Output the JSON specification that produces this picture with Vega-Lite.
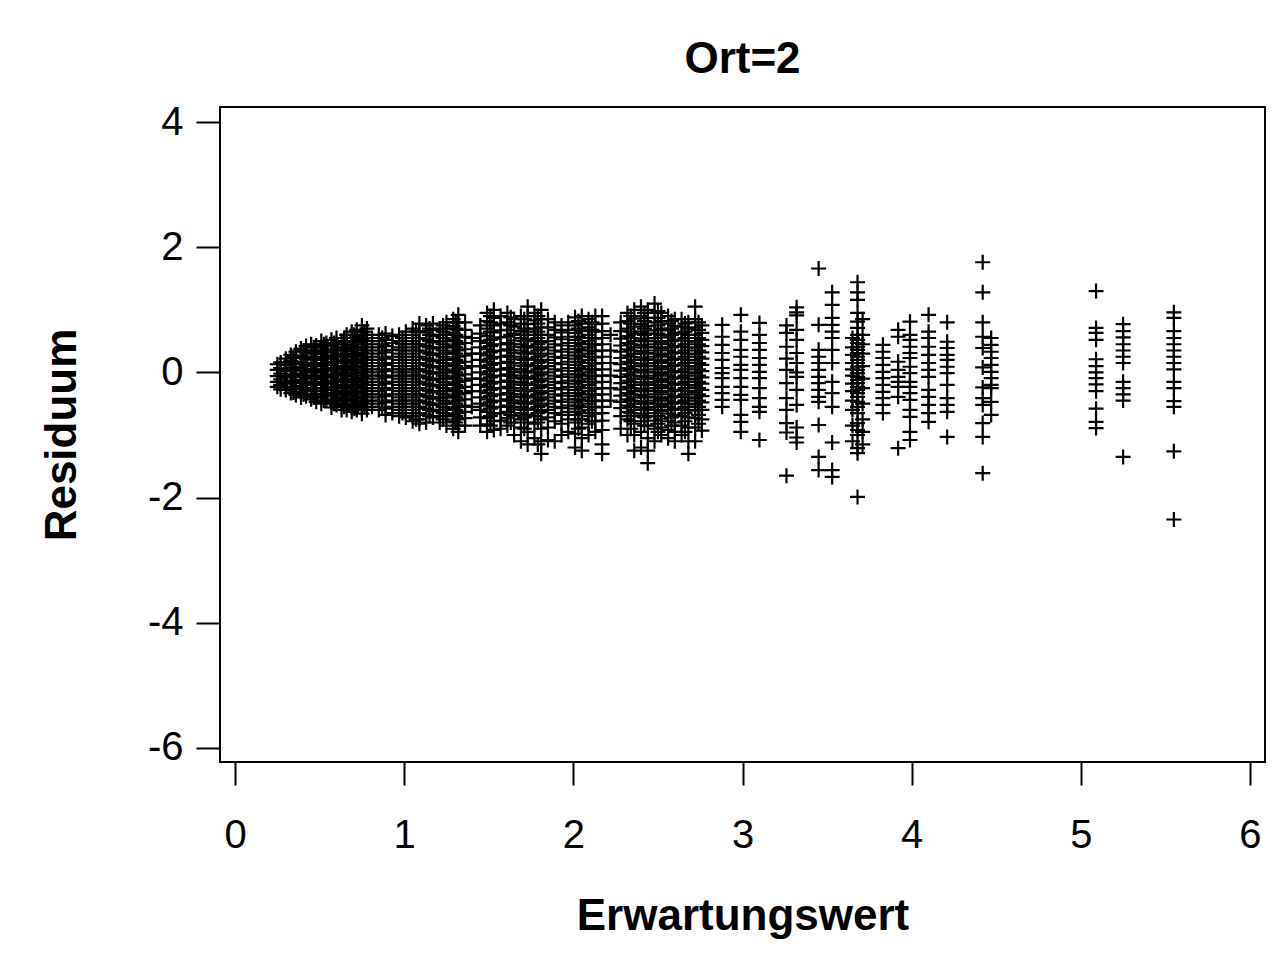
{
"$schema": "https://vega.github.io/schema/vega-lite/v6.json",
"width": 1045,
"height": 655,
"autosize": {"type": "none"},
"padding": {"left": 220, "top": 107, "right": 7, "bottom": 198},
"background": "white",
"title": {"text": "Ort=2", "font": "Liberation Sans", "fontSize": 44, "fontWeight": "bold", "color": "black", "anchor": "middle", "offset": 20},
"config": {"view": {"stroke": "black", "strokeWidth": 2}},
"data": {"values": [
{"x":0.25,"y":0.13},{"x":0.25,"y":0.04},{"x":0.25,"y":-0.06},{"x":0.25,"y":-0.15},{"x":0.25,"y":-0.23},
{"x":0.27,"y":0.16},{"x":0.27,"y":0.07},{"x":0.27,"y":-0.02},{"x":0.27,"y":-0.11},{"x":0.27,"y":-0.2},{"x":0.27,"y":-0.27},
{"x":0.30,"y":0.22},{"x":0.30,"y":0.12},{"x":0.30,"y":0.02},{"x":0.30,"y":-0.08},{"x":0.30,"y":-0.18},{"x":0.30,"y":-0.28},
{"x":0.33,"y":0.28},{"x":0.33,"y":0.18},{"x":0.33,"y":0.08},{"x":0.33,"y":-0.03},{"x":0.33,"y":-0.13},{"x":0.33,"y":-0.23},{"x":0.33,"y":-0.33},
{"x":0.345,"y":0.25},{"x":0.345,"y":0.15},{"x":0.345,"y":0.05},{"x":0.345,"y":-0.05},{"x":0.345,"y":-0.15},{"x":0.345,"y":-0.25},{"x":0.345,"y":-0.32},
{"x":0.36,"y":0.33},{"x":0.36,"y":0.23},{"x":0.36,"y":0.13},{"x":0.36,"y":0.03},{"x":0.36,"y":-0.07},{"x":0.36,"y":-0.17},{"x":0.36,"y":-0.27},{"x":0.36,"y":-0.36},
{"x":0.39,"y":0.38},{"x":0.39,"y":0.27},{"x":0.39,"y":0.17},{"x":0.39,"y":0.08},{"x":0.39,"y":-0.02},{"x":0.39,"y":-0.12},{"x":0.39,"y":-0.22},{"x":0.39,"y":-0.32},{"x":0.39,"y":-0.4},
{"x":0.405,"y":0.35},{"x":0.405,"y":0.25},{"x":0.405,"y":0.15},{"x":0.405,"y":0.05},{"x":0.405,"y":-0.05},{"x":0.405,"y":-0.15},{"x":0.405,"y":-0.25},{"x":0.405,"y":-0.35},
{"x":0.42,"y":0.42},{"x":0.42,"y":0.32},{"x":0.42,"y":0.22},{"x":0.42,"y":0.12},{"x":0.42,"y":0.02},{"x":0.42,"y":-0.08},{"x":0.42,"y":-0.18},{"x":0.42,"y":-0.28},{"x":0.42,"y":-0.38},
{"x":0.45,"y":0.45},{"x":0.45,"y":0.35},{"x":0.45,"y":0.25},{"x":0.45,"y":0.15},{"x":0.45,"y":0.05},{"x":0.45,"y":-0.05},{"x":0.45,"y":-0.15},{"x":0.45,"y":-0.25},{"x":0.45,"y":-0.35},{"x":0.45,"y":-0.43},
{"x":0.465,"y":0.4},{"x":0.465,"y":0.3},{"x":0.465,"y":0.2},{"x":0.465,"y":0.1},{"x":0.465,"y":0},{"x":0.465,"y":-0.1},{"x":0.465,"y":-0.2},{"x":0.465,"y":-0.3},{"x":0.465,"y":-0.4},
{"x":0.48,"y":0.43},{"x":0.48,"y":0.33},{"x":0.48,"y":0.22},{"x":0.48,"y":0.12},{"x":0.48,"y":0.02},{"x":0.48,"y":-0.08},{"x":0.48,"y":-0.18},{"x":0.48,"y":-0.29},{"x":0.48,"y":-0.39},{"x":0.48,"y":-0.47},
{"x":0.51,"y":0.5},{"x":0.51,"y":0.4},{"x":0.51,"y":0.3},{"x":0.51,"y":0.2},{"x":0.51,"y":0.1},{"x":0.51,"y":0},{"x":0.51,"y":-0.1},{"x":0.51,"y":-0.2},{"x":0.51,"y":-0.3},{"x":0.51,"y":-0.4},{"x":0.51,"y":-0.5},
{"x":0.525,"y":0.45},{"x":0.525,"y":0.35},{"x":0.525,"y":0.25},{"x":0.525,"y":0.15},{"x":0.525,"y":0.05},{"x":0.525,"y":-0.05},{"x":0.525,"y":-0.15},{"x":0.525,"y":-0.25},{"x":0.525,"y":-0.35},{"x":0.525,"y":-0.45},
{"x":0.54,"y":0.47},{"x":0.54,"y":0.36},{"x":0.54,"y":0.25},{"x":0.54,"y":0.15},{"x":0.54,"y":0.05},{"x":0.54,"y":-0.05},{"x":0.54,"y":-0.15},{"x":0.54,"y":-0.25},{"x":0.54,"y":-0.35},{"x":0.54,"y":-0.45},
{"x":0.57,"y":0.52},{"x":0.57,"y":0.42},{"x":0.57,"y":0.32},{"x":0.57,"y":0.22},{"x":0.57,"y":0.12},{"x":0.57,"y":0.02},{"x":0.57,"y":-0.08},{"x":0.57,"y":-0.18},{"x":0.57,"y":-0.28},{"x":0.57,"y":-0.38},{"x":0.57,"y":-0.48},{"x":0.57,"y":-0.56},
{"x":0.585,"y":0.47},{"x":0.585,"y":0.37},{"x":0.585,"y":0.27},{"x":0.585,"y":0.17},{"x":0.585,"y":0.07},{"x":0.585,"y":-0.03},{"x":0.585,"y":-0.13},{"x":0.585,"y":-0.23},{"x":0.585,"y":-0.33},{"x":0.585,"y":-0.43},{"x":0.585,"y":-0.5},
{"x":0.60,"y":0.55},{"x":0.60,"y":0.45},{"x":0.60,"y":0.35},{"x":0.60,"y":0.25},{"x":0.60,"y":0.15},{"x":0.60,"y":0.05},{"x":0.60,"y":-0.05},{"x":0.60,"y":-0.15},{"x":0.60,"y":-0.25},{"x":0.60,"y":-0.35},{"x":0.60,"y":-0.45},{"x":0.60,"y":-0.52},
{"x":0.63,"y":0.5},{"x":0.63,"y":0.4},{"x":0.63,"y":0.3},{"x":0.63,"y":0.2},{"x":0.63,"y":0.1},{"x":0.63,"y":0},{"x":0.63,"y":-0.1},{"x":0.63,"y":-0.2},{"x":0.63,"y":-0.3},{"x":0.63,"y":-0.4},{"x":0.63,"y":-0.5},{"x":0.63,"y":-0.6},
{"x":0.645,"y":0.55},{"x":0.645,"y":0.45},{"x":0.645,"y":0.35},{"x":0.645,"y":0.25},{"x":0.645,"y":0.15},{"x":0.645,"y":0.05},{"x":0.645,"y":-0.05},{"x":0.645,"y":-0.15},{"x":0.645,"y":-0.25},{"x":0.645,"y":-0.35},{"x":0.645,"y":-0.45},{"x":0.645,"y":-0.55},
{"x":0.66,"y":0.6},{"x":0.66,"y":0.49},{"x":0.66,"y":0.38},{"x":0.66,"y":0.27},{"x":0.66,"y":0.17},{"x":0.66,"y":0.07},{"x":0.66,"y":-0.03},{"x":0.66,"y":-0.13},{"x":0.66,"y":-0.23},{"x":0.66,"y":-0.33},{"x":0.66,"y":-0.43},{"x":0.66,"y":-0.53},{"x":0.66,"y":-0.6},
{"x":0.69,"y":0.65},{"x":0.69,"y":0.55},{"x":0.69,"y":0.44},{"x":0.69,"y":0.34},{"x":0.69,"y":0.24},{"x":0.69,"y":0.14},{"x":0.69,"y":0.04},{"x":0.69,"y":-0.06},{"x":0.69,"y":-0.16},{"x":0.69,"y":-0.26},{"x":0.69,"y":-0.36},{"x":0.69,"y":-0.46},{"x":0.69,"y":-0.56},{"x":0.69,"y":-0.63},
{"x":0.705,"y":0.6},{"x":0.705,"y":0.5},{"x":0.705,"y":0.4},{"x":0.705,"y":0.3},{"x":0.705,"y":0.2},{"x":0.705,"y":0.1},{"x":0.705,"y":0},{"x":0.705,"y":-0.1},{"x":0.705,"y":-0.2},{"x":0.705,"y":-0.3},{"x":0.705,"y":-0.4},{"x":0.705,"y":-0.5},{"x":0.705,"y":-0.58},
{"x":0.72,"y":0.68},{"x":0.72,"y":0.58},{"x":0.72,"y":0.48},{"x":0.72,"y":0.38},{"x":0.72,"y":0.28},{"x":0.72,"y":0.18},{"x":0.72,"y":0.08},{"x":0.72,"y":-0.02},{"x":0.72,"y":-0.12},{"x":0.72,"y":-0.22},{"x":0.72,"y":-0.32},{"x":0.72,"y":-0.42},{"x":0.72,"y":-0.52},{"x":0.72,"y":-0.6},
{"x":0.75,"y":0.75},{"x":0.75,"y":0.64},{"x":0.75,"y":0.52},{"x":0.75,"y":0.41},{"x":0.75,"y":0.31},{"x":0.75,"y":0.21},{"x":0.75,"y":0.11},{"x":0.75,"y":0.01},{"x":0.75,"y":-0.09},{"x":0.75,"y":-0.19},{"x":0.75,"y":-0.29},{"x":0.75,"y":-0.39},{"x":0.75,"y":-0.49},{"x":0.75,"y":-0.59},{"x":0.75,"y":-0.66},
{"x":0.765,"y":0.65},{"x":0.765,"y":0.55},{"x":0.765,"y":0.45},{"x":0.765,"y":0.35},{"x":0.765,"y":0.25},{"x":0.765,"y":0.15},{"x":0.765,"y":0.05},{"x":0.765,"y":-0.05},{"x":0.765,"y":-0.15},{"x":0.765,"y":-0.25},{"x":0.765,"y":-0.35},{"x":0.765,"y":-0.45},{"x":0.765,"y":-0.55},
{"x":0.78,"y":0.7},{"x":0.78,"y":0.6},{"x":0.78,"y":0.5},{"x":0.78,"y":0.4},{"x":0.78,"y":0.3},{"x":0.78,"y":0.2},{"x":0.78,"y":0.1},{"x":0.78,"y":0},{"x":0.78,"y":-0.1},{"x":0.78,"y":-0.2},{"x":0.78,"y":-0.3},{"x":0.78,"y":-0.4},{"x":0.78,"y":-0.5},{"x":0.78,"y":-0.6},
{"x":0.81,"y":0.55},{"x":0.81,"y":0.45},{"x":0.81,"y":0.35},{"x":0.81,"y":0.25},{"x":0.81,"y":0.15},{"x":0.81,"y":0.05},{"x":0.81,"y":-0.05},{"x":0.81,"y":-0.15},{"x":0.81,"y":-0.25},{"x":0.81,"y":-0.35},{"x":0.81,"y":-0.45},{"x":0.81,"y":-0.55},
{"x":0.85,"y":0.6},{"x":0.85,"y":0.5},{"x":0.85,"y":0.4},{"x":0.85,"y":0.3},{"x":0.85,"y":0.2},{"x":0.85,"y":0.1},{"x":0.85,"y":0},{"x":0.85,"y":-0.1},{"x":0.85,"y":-0.2},{"x":0.85,"y":-0.3},{"x":0.85,"y":-0.4},{"x":0.85,"y":-0.5},{"x":0.85,"y":-0.6},
{"x":0.87,"y":0.55},{"x":0.87,"y":0.45},{"x":0.87,"y":0.35},{"x":0.87,"y":0.25},{"x":0.87,"y":0.15},{"x":0.87,"y":0.05},{"x":0.87,"y":-0.05},{"x":0.87,"y":-0.15},{"x":0.87,"y":-0.25},{"x":0.87,"y":-0.35},{"x":0.87,"y":-0.45},{"x":0.87,"y":-0.55},
{"x":0.89,"y":0.62},{"x":0.89,"y":0.52},{"x":0.89,"y":0.42},{"x":0.89,"y":0.32},{"x":0.89,"y":0.22},{"x":0.89,"y":0.12},{"x":0.89,"y":0.02},{"x":0.89,"y":-0.08},{"x":0.89,"y":-0.18},{"x":0.89,"y":-0.28},{"x":0.89,"y":-0.38},{"x":0.89,"y":-0.48},{"x":0.89,"y":-0.58},{"x":0.89,"y":-0.68},
{"x":0.93,"y":0.58},{"x":0.93,"y":0.47},{"x":0.93,"y":0.36},{"x":0.93,"y":0.25},{"x":0.93,"y":0.15},{"x":0.93,"y":0.05},{"x":0.93,"y":-0.05},{"x":0.93,"y":-0.15},{"x":0.93,"y":-0.25},{"x":0.93,"y":-0.35},{"x":0.93,"y":-0.45},{"x":0.93,"y":-0.55},{"x":0.93,"y":-0.65},
{"x":0.97,"y":0.6},{"x":0.97,"y":0.5},{"x":0.97,"y":0.4},{"x":0.97,"y":0.3},{"x":0.97,"y":0.2},{"x":0.97,"y":0.1},{"x":0.97,"y":0},{"x":0.97,"y":-0.1},{"x":0.97,"y":-0.2},{"x":0.97,"y":-0.3},{"x":0.97,"y":-0.4},{"x":0.97,"y":-0.5},{"x":0.97,"y":-0.6},{"x":0.97,"y":-0.7},
{"x":0.99,"y":0.55},{"x":0.99,"y":0.45},{"x":0.99,"y":0.35},{"x":0.99,"y":0.25},{"x":0.99,"y":0.15},{"x":0.99,"y":0.05},{"x":0.99,"y":-0.05},{"x":0.99,"y":-0.15},{"x":0.99,"y":-0.25},{"x":0.99,"y":-0.35},{"x":0.99,"y":-0.45},{"x":0.99,"y":-0.55},{"x":0.99,"y":-0.65},
{"x":1.01,"y":0.65},{"x":1.01,"y":0.55},{"x":1.01,"y":0.45},{"x":1.01,"y":0.35},{"x":1.01,"y":0.25},{"x":1.01,"y":0.15},{"x":1.01,"y":0.05},{"x":1.01,"y":-0.05},{"x":1.01,"y":-0.15},{"x":1.01,"y":-0.25},{"x":1.01,"y":-0.35},{"x":1.01,"y":-0.45},{"x":1.01,"y":-0.55},{"x":1.01,"y":-0.65},{"x":1.01,"y":-0.72},
{"x":1.05,"y":0.7},{"x":1.05,"y":0.6},{"x":1.05,"y":0.5},{"x":1.05,"y":0.4},{"x":1.05,"y":0.3},{"x":1.05,"y":0.2},{"x":1.05,"y":0.1},{"x":1.05,"y":0},{"x":1.05,"y":-0.1},{"x":1.05,"y":-0.2},{"x":1.05,"y":-0.3},{"x":1.05,"y":-0.4},{"x":1.05,"y":-0.5},{"x":1.05,"y":-0.6},{"x":1.05,"y":-0.7},{"x":1.05,"y":-0.78},
{"x":1.07,"y":0.65},{"x":1.07,"y":0.55},{"x":1.07,"y":0.45},{"x":1.07,"y":0.35},{"x":1.07,"y":0.25},{"x":1.07,"y":0.15},{"x":1.07,"y":0.05},{"x":1.07,"y":-0.05},{"x":1.07,"y":-0.15},{"x":1.07,"y":-0.25},{"x":1.07,"y":-0.35},{"x":1.07,"y":-0.45},{"x":1.07,"y":-0.55},{"x":1.07,"y":-0.65},{"x":1.07,"y":-0.75},
{"x":1.09,"y":0.78},{"x":1.09,"y":0.66},{"x":1.09,"y":0.55},{"x":1.09,"y":0.45},{"x":1.09,"y":0.35},{"x":1.09,"y":0.25},{"x":1.09,"y":0.15},{"x":1.09,"y":0.05},{"x":1.09,"y":-0.05},{"x":1.09,"y":-0.15},{"x":1.09,"y":-0.25},{"x":1.09,"y":-0.35},{"x":1.09,"y":-0.45},{"x":1.09,"y":-0.55},{"x":1.09,"y":-0.65},{"x":1.09,"y":-0.75},{"x":1.09,"y":-0.82},
{"x":1.13,"y":0.75},{"x":1.13,"y":0.64},{"x":1.13,"y":0.53},{"x":1.13,"y":0.42},{"x":1.13,"y":0.32},{"x":1.13,"y":0.22},{"x":1.13,"y":0.12},{"x":1.13,"y":0.02},{"x":1.13,"y":-0.08},{"x":1.13,"y":-0.18},{"x":1.13,"y":-0.28},{"x":1.13,"y":-0.38},{"x":1.13,"y":-0.48},{"x":1.13,"y":-0.58},{"x":1.13,"y":-0.68},{"x":1.13,"y":-0.8},
{"x":1.15,"y":0.7},{"x":1.15,"y":0.6},{"x":1.15,"y":0.5},{"x":1.15,"y":0.4},{"x":1.15,"y":0.3},{"x":1.15,"y":0.2},{"x":1.15,"y":0.1},{"x":1.15,"y":0},{"x":1.15,"y":-0.1},{"x":1.15,"y":-0.2},{"x":1.15,"y":-0.3},{"x":1.15,"y":-0.4},{"x":1.15,"y":-0.5},{"x":1.15,"y":-0.6},{"x":1.15,"y":-0.7},
{"x":1.17,"y":0.78},{"x":1.17,"y":0.68},{"x":1.17,"y":0.58},{"x":1.17,"y":0.48},{"x":1.17,"y":0.38},{"x":1.17,"y":0.28},{"x":1.17,"y":0.18},{"x":1.17,"y":0.08},{"x":1.17,"y":-0.02},{"x":1.17,"y":-0.12},{"x":1.17,"y":-0.22},{"x":1.17,"y":-0.32},{"x":1.17,"y":-0.42},{"x":1.17,"y":-0.52},{"x":1.17,"y":-0.62},{"x":1.17,"y":-0.72},
{"x":1.21,"y":0.7},{"x":1.21,"y":0.6},{"x":1.21,"y":0.5},{"x":1.21,"y":0.4},{"x":1.21,"y":0.3},{"x":1.21,"y":0.2},{"x":1.21,"y":0.1},{"x":1.21,"y":0},{"x":1.21,"y":-0.1},{"x":1.21,"y":-0.2},{"x":1.21,"y":-0.3},{"x":1.21,"y":-0.4},{"x":1.21,"y":-0.5},{"x":1.21,"y":-0.6},{"x":1.21,"y":-0.7},{"x":1.21,"y":-0.8},
{"x":1.23,"y":0.75},{"x":1.23,"y":0.65},{"x":1.23,"y":0.55},{"x":1.23,"y":0.45},{"x":1.23,"y":0.35},{"x":1.23,"y":0.25},{"x":1.23,"y":0.15},{"x":1.23,"y":0.05},{"x":1.23,"y":-0.05},{"x":1.23,"y":-0.15},{"x":1.23,"y":-0.25},{"x":1.23,"y":-0.35},{"x":1.23,"y":-0.45},{"x":1.23,"y":-0.55},{"x":1.23,"y":-0.65},{"x":1.23,"y":-0.75},
{"x":1.25,"y":0.8},{"x":1.25,"y":0.7},{"x":1.25,"y":0.6},{"x":1.25,"y":0.5},{"x":1.25,"y":0.4},{"x":1.25,"y":0.3},{"x":1.25,"y":0.2},{"x":1.25,"y":0.1},{"x":1.25,"y":0},{"x":1.25,"y":-0.1},{"x":1.25,"y":-0.2},{"x":1.25,"y":-0.3},{"x":1.25,"y":-0.4},{"x":1.25,"y":-0.5},{"x":1.25,"y":-0.6},{"x":1.25,"y":-0.7},{"x":1.25,"y":-0.85},
{"x":1.29,"y":0.85},{"x":1.29,"y":0.74},{"x":1.29,"y":0.63},{"x":1.29,"y":0.52},{"x":1.29,"y":0.42},{"x":1.29,"y":0.32},{"x":1.29,"y":0.22},{"x":1.29,"y":0.12},{"x":1.29,"y":0.02},{"x":1.29,"y":-0.08},{"x":1.29,"y":-0.18},{"x":1.29,"y":-0.28},{"x":1.29,"y":-0.38},{"x":1.29,"y":-0.48},{"x":1.29,"y":-0.58},{"x":1.29,"y":-0.68},{"x":1.29,"y":-0.78},{"x":1.29,"y":-0.9},
{"x":1.305,"y":0.8},{"x":1.305,"y":0.7},{"x":1.305,"y":0.6},{"x":1.305,"y":0.5},{"x":1.305,"y":0.4},{"x":1.305,"y":0.3},{"x":1.305,"y":0.2},{"x":1.305,"y":0.1},{"x":1.305,"y":0},{"x":1.305,"y":-0.1},{"x":1.305,"y":-0.2},{"x":1.305,"y":-0.3},{"x":1.305,"y":-0.4},{"x":1.305,"y":-0.5},{"x":1.305,"y":-0.6},{"x":1.305,"y":-0.7},{"x":1.305,"y":-0.8},
{"x":1.32,"y":0.92},{"x":1.32,"y":0.8},{"x":1.32,"y":0.68},{"x":1.32,"y":0.56},{"x":1.32,"y":0.45},{"x":1.32,"y":0.35},{"x":1.32,"y":0.25},{"x":1.32,"y":0.15},{"x":1.32,"y":0.05},{"x":1.32,"y":-0.05},{"x":1.32,"y":-0.15},{"x":1.32,"y":-0.25},{"x":1.32,"y":-0.35},{"x":1.32,"y":-0.45},{"x":1.32,"y":-0.55},{"x":1.32,"y":-0.65},{"x":1.32,"y":-0.75},{"x":1.32,"y":-0.85},{"x":1.32,"y":-0.95},
{"x":1.36,"y":0.8},{"x":1.36,"y":0.68},{"x":1.36,"y":0.57},{"x":1.36,"y":0.47},{"x":1.36,"y":0.37},{"x":1.36,"y":0.27},{"x":1.36,"y":0.17},{"x":1.36,"y":0.07},{"x":1.36,"y":-0.03},{"x":1.36,"y":-0.13},{"x":1.36,"y":-0.23},{"x":1.36,"y":-0.33},{"x":1.36,"y":-0.43},{"x":1.36,"y":-0.53},{"x":1.36,"y":-0.63},{"x":1.36,"y":-0.73},{"x":1.36,"y":-0.85},
{"x":1.40,"y":0.55},{"x":1.40,"y":0.3},{"x":1.40,"y":0.1},{"x":1.40,"y":-0.1},{"x":1.40,"y":-0.3},{"x":1.40,"y":-0.55},
{"x":1.45,"y":0.75},{"x":1.45,"y":0.62},{"x":1.45,"y":0.5},{"x":1.45,"y":0.4},{"x":1.45,"y":0.3},{"x":1.45,"y":0.2},{"x":1.45,"y":0.1},{"x":1.45,"y":0},{"x":1.45,"y":-0.1},{"x":1.45,"y":-0.2},{"x":1.45,"y":-0.3},{"x":1.45,"y":-0.4},{"x":1.45,"y":-0.5},{"x":1.45,"y":-0.6},{"x":1.45,"y":-0.72},{"x":1.45,"y":-0.85},
{"x":1.49,"y":0.95},{"x":1.49,"y":0.82},{"x":1.49,"y":0.7},{"x":1.49,"y":0.58},{"x":1.49,"y":0.47},{"x":1.49,"y":0.37},{"x":1.49,"y":0.27},{"x":1.49,"y":0.17},{"x":1.49,"y":0.07},{"x":1.49,"y":-0.03},{"x":1.49,"y":-0.13},{"x":1.49,"y":-0.23},{"x":1.49,"y":-0.33},{"x":1.49,"y":-0.43},{"x":1.49,"y":-0.53},{"x":1.49,"y":-0.63},{"x":1.49,"y":-0.73},{"x":1.49,"y":-0.83},{"x":1.49,"y":-0.95},
{"x":1.51,"y":0.9},{"x":1.51,"y":0.8},{"x":1.51,"y":0.65},{"x":1.51,"y":0.52},{"x":1.51,"y":0.42},{"x":1.51,"y":0.32},{"x":1.51,"y":0.22},{"x":1.51,"y":0.12},{"x":1.51,"y":0.02},{"x":1.51,"y":-0.08},{"x":1.51,"y":-0.18},{"x":1.51,"y":-0.28},{"x":1.51,"y":-0.38},{"x":1.51,"y":-0.48},{"x":1.51,"y":-0.58},{"x":1.51,"y":-0.7},{"x":1.51,"y":-0.85},
{"x":1.53,"y":1.0},{"x":1.53,"y":0.87},{"x":1.53,"y":0.75},{"x":1.53,"y":0.64},{"x":1.53,"y":0.54},{"x":1.53,"y":0.44},{"x":1.53,"y":0.34},{"x":1.53,"y":0.24},{"x":1.53,"y":0.14},{"x":1.53,"y":0.04},{"x":1.53,"y":-0.06},{"x":1.53,"y":-0.16},{"x":1.53,"y":-0.26},{"x":1.53,"y":-0.36},{"x":1.53,"y":-0.46},{"x":1.53,"y":-0.56},{"x":1.53,"y":-0.66},{"x":1.53,"y":-0.78},{"x":1.53,"y":-0.92},
{"x":1.57,"y":0.9},{"x":1.57,"y":0.78},{"x":1.57,"y":0.67},{"x":1.57,"y":0.56},{"x":1.57,"y":0.45},{"x":1.57,"y":0.35},{"x":1.57,"y":0.25},{"x":1.57,"y":0.15},{"x":1.57,"y":0.05},{"x":1.57,"y":-0.05},{"x":1.57,"y":-0.15},{"x":1.57,"y":-0.25},{"x":1.57,"y":-0.35},{"x":1.57,"y":-0.45},{"x":1.57,"y":-0.55},{"x":1.57,"y":-0.65},{"x":1.57,"y":-0.77},{"x":1.57,"y":-0.9},
{"x":1.61,"y":0.95},{"x":1.61,"y":0.8},{"x":1.61,"y":0.68},{"x":1.61,"y":0.57},{"x":1.61,"y":0.47},{"x":1.61,"y":0.37},{"x":1.61,"y":0.27},{"x":1.61,"y":0.17},{"x":1.61,"y":0.07},{"x":1.61,"y":-0.03},{"x":1.61,"y":-0.13},{"x":1.61,"y":-0.23},{"x":1.61,"y":-0.33},{"x":1.61,"y":-0.43},{"x":1.61,"y":-0.53},{"x":1.61,"y":-0.63},{"x":1.61,"y":-0.73},{"x":1.61,"y":-0.85},
{"x":1.63,"y":0.88},{"x":1.63,"y":0.75},{"x":1.63,"y":0.6},{"x":1.63,"y":0.45},{"x":1.63,"y":0.35},{"x":1.63,"y":0.25},{"x":1.63,"y":0.15},{"x":1.63,"y":0.05},{"x":1.63,"y":-0.05},{"x":1.63,"y":-0.15},{"x":1.63,"y":-0.25},{"x":1.63,"y":-0.35},{"x":1.63,"y":-0.45},{"x":1.63,"y":-0.55},{"x":1.63,"y":-0.68},{"x":1.63,"y":-0.8},
{"x":1.65,"y":0.85},{"x":1.65,"y":0.73},{"x":1.65,"y":0.62},{"x":1.65,"y":0.51},{"x":1.65,"y":0.41},{"x":1.65,"y":0.31},{"x":1.65,"y":0.21},{"x":1.65,"y":0.11},{"x":1.65,"y":0.01},{"x":1.65,"y":-0.09},{"x":1.65,"y":-0.19},{"x":1.65,"y":-0.29},{"x":1.65,"y":-0.39},{"x":1.65,"y":-0.49},{"x":1.65,"y":-0.59},{"x":1.65,"y":-0.69},{"x":1.65,"y":-0.8},{"x":1.65,"y":-1.0},
{"x":1.69,"y":0.9},{"x":1.69,"y":0.78},{"x":1.69,"y":0.66},{"x":1.69,"y":0.55},{"x":1.69,"y":0.45},{"x":1.69,"y":0.35},{"x":1.69,"y":0.25},{"x":1.69,"y":0.15},{"x":1.69,"y":0.05},{"x":1.69,"y":-0.05},{"x":1.69,"y":-0.15},{"x":1.69,"y":-0.25},{"x":1.69,"y":-0.35},{"x":1.69,"y":-0.45},{"x":1.69,"y":-0.55},{"x":1.69,"y":-0.65},{"x":1.69,"y":-0.75},{"x":1.69,"y":-0.88},{"x":1.69,"y":-1.1},
{"x":1.71,"y":0.85},{"x":1.71,"y":0.7},{"x":1.71,"y":0.6},{"x":1.71,"y":0.5},{"x":1.71,"y":0.4},{"x":1.71,"y":0.3},{"x":1.71,"y":0.2},{"x":1.71,"y":0.1},{"x":1.71,"y":0},{"x":1.71,"y":-0.1},{"x":1.71,"y":-0.2},{"x":1.71,"y":-0.3},{"x":1.71,"y":-0.4},{"x":1.71,"y":-0.5},{"x":1.71,"y":-0.6},{"x":1.71,"y":-0.72},{"x":1.71,"y":-0.9},
{"x":1.73,"y":1.05},{"x":1.73,"y":0.9},{"x":1.73,"y":0.77},{"x":1.73,"y":0.65},{"x":1.73,"y":0.53},{"x":1.73,"y":0.42},{"x":1.73,"y":0.32},{"x":1.73,"y":0.22},{"x":1.73,"y":0.12},{"x":1.73,"y":0.02},{"x":1.73,"y":-0.08},{"x":1.73,"y":-0.18},{"x":1.73,"y":-0.28},{"x":1.73,"y":-0.38},{"x":1.73,"y":-0.48},{"x":1.73,"y":-0.58},{"x":1.73,"y":-0.68},{"x":1.73,"y":-0.8},{"x":1.73,"y":-0.95},{"x":1.73,"y":-1.15},
{"x":1.77,"y":0.95},{"x":1.77,"y":0.83},{"x":1.77,"y":0.7},{"x":1.77,"y":0.6},{"x":1.77,"y":0.5},{"x":1.77,"y":0.4},{"x":1.77,"y":0.3},{"x":1.77,"y":0.2},{"x":1.77,"y":0.1},{"x":1.77,"y":0},{"x":1.77,"y":-0.1},{"x":1.77,"y":-0.2},{"x":1.77,"y":-0.3},{"x":1.77,"y":-0.4},{"x":1.77,"y":-0.5},{"x":1.77,"y":-0.6},{"x":1.77,"y":-0.7},{"x":1.77,"y":-0.82},{"x":1.77,"y":-1.05},
{"x":1.79,"y":0.9},{"x":1.79,"y":0.78},{"x":1.79,"y":0.65},{"x":1.79,"y":0.55},{"x":1.79,"y":0.45},{"x":1.79,"y":0.35},{"x":1.79,"y":0.25},{"x":1.79,"y":0.15},{"x":1.79,"y":0.05},{"x":1.79,"y":-0.05},{"x":1.79,"y":-0.15},{"x":1.79,"y":-0.25},{"x":1.79,"y":-0.35},{"x":1.79,"y":-0.45},{"x":1.79,"y":-0.55},{"x":1.79,"y":-0.65},{"x":1.79,"y":-0.8},{"x":1.79,"y":-1.15},
{"x":1.81,"y":1.0},{"x":1.81,"y":0.85},{"x":1.81,"y":0.72},{"x":1.81,"y":0.6},{"x":1.81,"y":0.48},{"x":1.81,"y":0.37},{"x":1.81,"y":0.27},{"x":1.81,"y":0.17},{"x":1.81,"y":0.07},{"x":1.81,"y":-0.03},{"x":1.81,"y":-0.13},{"x":1.81,"y":-0.23},{"x":1.81,"y":-0.33},{"x":1.81,"y":-0.43},{"x":1.81,"y":-0.53},{"x":1.81,"y":-0.63},{"x":1.81,"y":-0.75},{"x":1.81,"y":-0.9},{"x":1.81,"y":-1.1},{"x":1.81,"y":-1.3},
{"x":1.85,"y":0.85},{"x":1.85,"y":0.72},{"x":1.85,"y":0.6},{"x":1.85,"y":0.5},{"x":1.85,"y":0.4},{"x":1.85,"y":0.3},{"x":1.85,"y":0.2},{"x":1.85,"y":0.1},{"x":1.85,"y":0},{"x":1.85,"y":-0.1},{"x":1.85,"y":-0.2},{"x":1.85,"y":-0.3},{"x":1.85,"y":-0.4},{"x":1.85,"y":-0.5},{"x":1.85,"y":-0.6},{"x":1.85,"y":-0.72},{"x":1.85,"y":-0.88},{"x":1.85,"y":-1.08},
{"x":1.89,"y":0.8},{"x":1.89,"y":0.68},{"x":1.89,"y":0.56},{"x":1.89,"y":0.45},{"x":1.89,"y":0.35},{"x":1.89,"y":0.25},{"x":1.89,"y":0.15},{"x":1.89,"y":0.05},{"x":1.89,"y":-0.05},{"x":1.89,"y":-0.15},{"x":1.89,"y":-0.25},{"x":1.89,"y":-0.35},{"x":1.89,"y":-0.45},{"x":1.89,"y":-0.55},{"x":1.89,"y":-0.65},{"x":1.89,"y":-0.78},{"x":1.89,"y":-1.1},
{"x":1.93,"y":0.75},{"x":1.93,"y":0.64},{"x":1.93,"y":0.53},{"x":1.93,"y":0.43},{"x":1.93,"y":0.33},{"x":1.93,"y":0.23},{"x":1.93,"y":0.13},{"x":1.93,"y":0.03},{"x":1.93,"y":-0.07},{"x":1.93,"y":-0.17},{"x":1.93,"y":-0.27},{"x":1.93,"y":-0.37},{"x":1.93,"y":-0.47},{"x":1.93,"y":-0.57},{"x":1.93,"y":-0.68},{"x":1.93,"y":-0.82},{"x":1.93,"y":-1.0},
{"x":1.97,"y":0.8},{"x":1.97,"y":0.68},{"x":1.97,"y":0.57},{"x":1.97,"y":0.47},{"x":1.97,"y":0.37},{"x":1.97,"y":0.27},{"x":1.97,"y":0.17},{"x":1.97,"y":0.07},{"x":1.97,"y":-0.03},{"x":1.97,"y":-0.13},{"x":1.97,"y":-0.23},{"x":1.97,"y":-0.33},{"x":1.97,"y":-0.43},{"x":1.97,"y":-0.53},{"x":1.97,"y":-0.63},{"x":1.97,"y":-0.75},{"x":1.97,"y":-0.95},
{"x":2.01,"y":0.88},{"x":2.01,"y":0.75},{"x":2.01,"y":0.63},{"x":2.01,"y":0.52},{"x":2.01,"y":0.42},{"x":2.01,"y":0.32},{"x":2.01,"y":0.22},{"x":2.01,"y":0.12},{"x":2.01,"y":0.02},{"x":2.01,"y":-0.08},{"x":2.01,"y":-0.18},{"x":2.01,"y":-0.28},{"x":2.01,"y":-0.38},{"x":2.01,"y":-0.48},{"x":2.01,"y":-0.58},{"x":2.01,"y":-0.68},{"x":2.01,"y":-0.8},{"x":2.01,"y":-0.98},{"x":2.01,"y":-1.2},
{"x":2.03,"y":0.82},{"x":2.03,"y":0.7},{"x":2.03,"y":0.57},{"x":2.03,"y":0.47},{"x":2.03,"y":0.37},{"x":2.03,"y":0.27},{"x":2.03,"y":0.17},{"x":2.03,"y":0.07},{"x":2.03,"y":-0.03},{"x":2.03,"y":-0.13},{"x":2.03,"y":-0.23},{"x":2.03,"y":-0.33},{"x":2.03,"y":-0.43},{"x":2.03,"y":-0.53},{"x":2.03,"y":-0.63},{"x":2.03,"y":-0.75},{"x":2.03,"y":-0.9},
{"x":2.05,"y":0.9},{"x":2.05,"y":0.78},{"x":2.05,"y":0.66},{"x":2.05,"y":0.55},{"x":2.05,"y":0.45},{"x":2.05,"y":0.35},{"x":2.05,"y":0.25},{"x":2.05,"y":0.15},{"x":2.05,"y":0.05},{"x":2.05,"y":-0.05},{"x":2.05,"y":-0.15},{"x":2.05,"y":-0.25},{"x":2.05,"y":-0.35},{"x":2.05,"y":-0.45},{"x":2.05,"y":-0.55},{"x":2.05,"y":-0.65},{"x":2.05,"y":-0.75},{"x":2.05,"y":-0.88},{"x":2.05,"y":-1.05},{"x":2.05,"y":-1.25},
{"x":2.09,"y":0.85},{"x":2.09,"y":0.72},{"x":2.09,"y":0.6},{"x":2.09,"y":0.5},{"x":2.09,"y":0.4},{"x":2.09,"y":0.3},{"x":2.09,"y":0.2},{"x":2.09,"y":0.1},{"x":2.09,"y":0},{"x":2.09,"y":-0.1},{"x":2.09,"y":-0.2},{"x":2.09,"y":-0.3},{"x":2.09,"y":-0.4},{"x":2.09,"y":-0.5},{"x":2.09,"y":-0.6},{"x":2.09,"y":-0.7},{"x":2.09,"y":-0.82},{"x":2.09,"y":-1.0},
{"x":2.11,"y":0.8},{"x":2.11,"y":0.68},{"x":2.11,"y":0.55},{"x":2.11,"y":0.45},{"x":2.11,"y":0.35},{"x":2.11,"y":0.25},{"x":2.11,"y":0.15},{"x":2.11,"y":0.05},{"x":2.11,"y":-0.05},{"x":2.11,"y":-0.15},{"x":2.11,"y":-0.25},{"x":2.11,"y":-0.35},{"x":2.11,"y":-0.45},{"x":2.11,"y":-0.55},{"x":2.11,"y":-0.65},{"x":2.11,"y":-0.78},
{"x":2.13,"y":0.9},{"x":2.13,"y":0.77},{"x":2.13,"y":0.65},{"x":2.13,"y":0.54},{"x":2.13,"y":0.44},{"x":2.13,"y":0.34},{"x":2.13,"y":0.24},{"x":2.13,"y":0.14},{"x":2.13,"y":0.04},{"x":2.13,"y":-0.06},{"x":2.13,"y":-0.16},{"x":2.13,"y":-0.26},{"x":2.13,"y":-0.36},{"x":2.13,"y":-0.46},{"x":2.13,"y":-0.56},{"x":2.13,"y":-0.66},{"x":2.13,"y":-0.78},{"x":2.13,"y":-0.95},
{"x":2.17,"y":0.9},{"x":2.17,"y":0.78},{"x":2.17,"y":0.66},{"x":2.17,"y":0.55},{"x":2.17,"y":0.45},{"x":2.17,"y":0.35},{"x":2.17,"y":0.25},{"x":2.17,"y":0.15},{"x":2.17,"y":0.05},{"x":2.17,"y":-0.05},{"x":2.17,"y":-0.15},{"x":2.17,"y":-0.25},{"x":2.17,"y":-0.35},{"x":2.17,"y":-0.45},{"x":2.17,"y":-0.55},{"x":2.17,"y":-0.65},{"x":2.17,"y":-0.77},{"x":2.17,"y":-0.92},{"x":2.17,"y":-1.15},{"x":2.17,"y":-1.3},
{"x":2.22,"y":0.6},{"x":2.22,"y":0.35},{"x":2.22,"y":0.15},{"x":2.22,"y":-0.05},{"x":2.22,"y":-0.25},{"x":2.22,"y":-0.45},
{"x":2.28,"y":0.8},{"x":2.28,"y":0.66},{"x":2.28,"y":0.54},{"x":2.28,"y":0.43},{"x":2.28,"y":0.33},{"x":2.28,"y":0.23},{"x":2.28,"y":0.13},{"x":2.28,"y":0.03},{"x":2.28,"y":-0.07},{"x":2.28,"y":-0.17},{"x":2.28,"y":-0.27},{"x":2.28,"y":-0.37},{"x":2.28,"y":-0.47},{"x":2.28,"y":-0.57},{"x":2.28,"y":-0.7},{"x":2.28,"y":-0.9},
{"x":2.32,"y":0.95},{"x":2.32,"y":0.82},{"x":2.32,"y":0.7},{"x":2.32,"y":0.58},{"x":2.32,"y":0.47},{"x":2.32,"y":0.37},{"x":2.32,"y":0.27},{"x":2.32,"y":0.17},{"x":2.32,"y":0.07},{"x":2.32,"y":-0.03},{"x":2.32,"y":-0.13},{"x":2.32,"y":-0.23},{"x":2.32,"y":-0.33},{"x":2.32,"y":-0.43},{"x":2.32,"y":-0.53},{"x":2.32,"y":-0.63},{"x":2.32,"y":-0.75},{"x":2.32,"y":-1.0},
{"x":2.34,"y":0.9},{"x":2.34,"y":0.78},{"x":2.34,"y":0.65},{"x":2.34,"y":0.55},{"x":2.34,"y":0.45},{"x":2.34,"y":0.35},{"x":2.34,"y":0.25},{"x":2.34,"y":0.15},{"x":2.34,"y":0.05},{"x":2.34,"y":-0.05},{"x":2.34,"y":-0.15},{"x":2.34,"y":-0.25},{"x":2.34,"y":-0.35},{"x":2.34,"y":-0.45},{"x":2.34,"y":-0.55},{"x":2.34,"y":-0.65},{"x":2.34,"y":-0.78},{"x":2.34,"y":-0.9},
{"x":2.36,"y":1.0},{"x":2.36,"y":0.86},{"x":2.36,"y":0.73},{"x":2.36,"y":0.61},{"x":2.36,"y":0.5},{"x":2.36,"y":0.4},{"x":2.36,"y":0.3},{"x":2.36,"y":0.2},{"x":2.36,"y":0.1},{"x":2.36,"y":0},{"x":2.36,"y":-0.1},{"x":2.36,"y":-0.2},{"x":2.36,"y":-0.3},{"x":2.36,"y":-0.4},{"x":2.36,"y":-0.5},{"x":2.36,"y":-0.6},{"x":2.36,"y":-0.7},{"x":2.36,"y":-0.82},{"x":2.36,"y":-1.0},{"x":2.36,"y":-1.25},
{"x":2.40,"y":1.05},{"x":2.40,"y":0.9},{"x":2.40,"y":0.77},{"x":2.40,"y":0.65},{"x":2.40,"y":0.54},{"x":2.40,"y":0.44},{"x":2.40,"y":0.34},{"x":2.40,"y":0.24},{"x":2.40,"y":0.14},{"x":2.40,"y":0.04},{"x":2.40,"y":-0.06},{"x":2.40,"y":-0.16},{"x":2.40,"y":-0.26},{"x":2.40,"y":-0.36},{"x":2.40,"y":-0.46},{"x":2.40,"y":-0.56},{"x":2.40,"y":-0.66},{"x":2.40,"y":-0.78},{"x":2.40,"y":-0.95},{"x":2.40,"y":-1.2},
{"x":2.42,"y":0.95},{"x":2.42,"y":0.82},{"x":2.42,"y":0.7},{"x":2.42,"y":0.6},{"x":2.42,"y":0.5},{"x":2.42,"y":0.4},{"x":2.42,"y":0.3},{"x":2.42,"y":0.2},{"x":2.42,"y":0.1},{"x":2.42,"y":0},{"x":2.42,"y":-0.1},{"x":2.42,"y":-0.2},{"x":2.42,"y":-0.3},{"x":2.42,"y":-0.4},{"x":2.42,"y":-0.5},{"x":2.42,"y":-0.6},{"x":2.42,"y":-0.72},{"x":2.42,"y":-0.85},
{"x":2.44,"y":1.0},{"x":2.44,"y":0.87},{"x":2.44,"y":0.74},{"x":2.44,"y":0.62},{"x":2.44,"y":0.51},{"x":2.44,"y":0.41},{"x":2.44,"y":0.31},{"x":2.44,"y":0.21},{"x":2.44,"y":0.11},{"x":2.44,"y":0.01},{"x":2.44,"y":-0.09},{"x":2.44,"y":-0.19},{"x":2.44,"y":-0.29},{"x":2.44,"y":-0.39},{"x":2.44,"y":-0.49},{"x":2.44,"y":-0.59},{"x":2.44,"y":-0.7},{"x":2.44,"y":-0.85},{"x":2.44,"y":-1.05},{"x":2.44,"y":-1.25},{"x":2.44,"y":-1.45},
{"x":2.48,"y":1.1},{"x":2.48,"y":0.95},{"x":2.48,"y":0.8},{"x":2.48,"y":0.67},{"x":2.48,"y":0.55},{"x":2.48,"y":0.45},{"x":2.48,"y":0.35},{"x":2.48,"y":0.25},{"x":2.48,"y":0.15},{"x":2.48,"y":0.05},{"x":2.48,"y":-0.05},{"x":2.48,"y":-0.15},{"x":2.48,"y":-0.25},{"x":2.48,"y":-0.35},{"x":2.48,"y":-0.45},{"x":2.48,"y":-0.55},{"x":2.48,"y":-0.65},{"x":2.48,"y":-0.77},{"x":2.48,"y":-0.9},{"x":2.48,"y":-1.1},
{"x":2.50,"y":0.98},{"x":2.50,"y":0.87},{"x":2.50,"y":0.75},{"x":2.50,"y":0.62},{"x":2.50,"y":0.5},{"x":2.50,"y":0.4},{"x":2.50,"y":0.3},{"x":2.50,"y":0.2},{"x":2.50,"y":0.1},{"x":2.50,"y":0},{"x":2.50,"y":-0.1},{"x":2.50,"y":-0.2},{"x":2.50,"y":-0.3},{"x":2.50,"y":-0.4},{"x":2.50,"y":-0.5},{"x":2.50,"y":-0.6},{"x":2.50,"y":-0.7},{"x":2.50,"y":-0.82},{"x":2.50,"y":-0.95},
{"x":2.52,"y":0.95},{"x":2.52,"y":0.82},{"x":2.52,"y":0.7},{"x":2.52,"y":0.59},{"x":2.52,"y":0.48},{"x":2.52,"y":0.38},{"x":2.52,"y":0.28},{"x":2.52,"y":0.18},{"x":2.52,"y":0.08},{"x":2.52,"y":-0.02},{"x":2.52,"y":-0.12},{"x":2.52,"y":-0.22},{"x":2.52,"y":-0.32},{"x":2.52,"y":-0.42},{"x":2.52,"y":-0.52},{"x":2.52,"y":-0.62},{"x":2.52,"y":-0.74},{"x":2.52,"y":-0.88},{"x":2.52,"y":-1.0},
{"x":2.56,"y":0.9},{"x":2.56,"y":0.78},{"x":2.56,"y":0.67},{"x":2.56,"y":0.56},{"x":2.56,"y":0.45},{"x":2.56,"y":0.35},{"x":2.56,"y":0.25},{"x":2.56,"y":0.15},{"x":2.56,"y":0.05},{"x":2.56,"y":-0.05},{"x":2.56,"y":-0.15},{"x":2.56,"y":-0.25},{"x":2.56,"y":-0.35},{"x":2.56,"y":-0.45},{"x":2.56,"y":-0.55},{"x":2.56,"y":-0.66},{"x":2.56,"y":-0.78},{"x":2.56,"y":-0.92},{"x":2.56,"y":-1.05},
{"x":2.58,"y":0.82},{"x":2.58,"y":0.7},{"x":2.58,"y":0.6},{"x":2.58,"y":0.5},{"x":2.58,"y":0.4},{"x":2.58,"y":0.3},{"x":2.58,"y":0.2},{"x":2.58,"y":0.1},{"x":2.58,"y":0},{"x":2.58,"y":-0.1},{"x":2.58,"y":-0.2},{"x":2.58,"y":-0.3},{"x":2.58,"y":-0.4},{"x":2.58,"y":-0.5},{"x":2.58,"y":-0.6},{"x":2.58,"y":-0.72},{"x":2.58,"y":-0.85},
{"x":2.60,"y":0.85},{"x":2.60,"y":0.74},{"x":2.60,"y":0.63},{"x":2.60,"y":0.52},{"x":2.60,"y":0.42},{"x":2.60,"y":0.32},{"x":2.60,"y":0.22},{"x":2.60,"y":0.12},{"x":2.60,"y":0.02},{"x":2.60,"y":-0.08},{"x":2.60,"y":-0.18},{"x":2.60,"y":-0.28},{"x":2.60,"y":-0.38},{"x":2.60,"y":-0.48},{"x":2.60,"y":-0.58},{"x":2.60,"y":-0.68},{"x":2.60,"y":-0.8},{"x":2.60,"y":-0.95},{"x":2.60,"y":-1.1},
{"x":2.64,"y":0.85},{"x":2.64,"y":0.73},{"x":2.64,"y":0.62},{"x":2.64,"y":0.51},{"x":2.64,"y":0.41},{"x":2.64,"y":0.31},{"x":2.64,"y":0.21},{"x":2.64,"y":0.11},{"x":2.64,"y":0.01},{"x":2.64,"y":-0.09},{"x":2.64,"y":-0.19},{"x":2.64,"y":-0.29},{"x":2.64,"y":-0.39},{"x":2.64,"y":-0.49},{"x":2.64,"y":-0.59},{"x":2.64,"y":-0.7},{"x":2.64,"y":-0.85},{"x":2.64,"y":-1.0},
{"x":2.66,"y":0.78},{"x":2.66,"y":0.65},{"x":2.66,"y":0.55},{"x":2.66,"y":0.45},{"x":2.66,"y":0.35},{"x":2.66,"y":0.25},{"x":2.66,"y":0.15},{"x":2.66,"y":0.05},{"x":2.66,"y":-0.05},{"x":2.66,"y":-0.15},{"x":2.66,"y":-0.25},{"x":2.66,"y":-0.35},{"x":2.66,"y":-0.45},{"x":2.66,"y":-0.55},{"x":2.66,"y":-0.65},{"x":2.66,"y":-0.78},{"x":2.66,"y":-0.95},
{"x":2.68,"y":0.8},{"x":2.68,"y":0.7},{"x":2.68,"y":0.6},{"x":2.68,"y":0.5},{"x":2.68,"y":0.4},{"x":2.68,"y":0.3},{"x":2.68,"y":0.2},{"x":2.68,"y":0.1},{"x":2.68,"y":0},{"x":2.68,"y":-0.1},{"x":2.68,"y":-0.2},{"x":2.68,"y":-0.3},{"x":2.68,"y":-0.4},{"x":2.68,"y":-0.5},{"x":2.68,"y":-0.6},{"x":2.68,"y":-0.72},{"x":2.68,"y":-0.88},{"x":2.68,"y":-1.1},{"x":2.68,"y":-1.3},
{"x":2.72,"y":1.05},{"x":2.72,"y":0.85},{"x":2.72,"y":0.72},{"x":2.72,"y":0.6},{"x":2.72,"y":0.49},{"x":2.72,"y":0.39},{"x":2.72,"y":0.29},{"x":2.72,"y":0.19},{"x":2.72,"y":0.09},{"x":2.72,"y":-0.01},{"x":2.72,"y":-0.11},{"x":2.72,"y":-0.21},{"x":2.72,"y":-0.31},{"x":2.72,"y":-0.41},{"x":2.72,"y":-0.51},{"x":2.72,"y":-0.61},{"x":2.72,"y":-0.73},{"x":2.72,"y":-0.88},{"x":2.72,"y":-1.1},
{"x":2.74,"y":0.8},{"x":2.74,"y":0.68},{"x":2.74,"y":0.55},{"x":2.74,"y":0.45},{"x":2.74,"y":0.35},{"x":2.74,"y":0.25},{"x":2.74,"y":0.15},{"x":2.74,"y":0.05},{"x":2.74,"y":-0.05},{"x":2.74,"y":-0.15},{"x":2.74,"y":-0.25},{"x":2.74,"y":-0.35},{"x":2.74,"y":-0.45},{"x":2.74,"y":-0.55},{"x":2.74,"y":-0.68},{"x":2.74,"y":-0.82},
{"x":2.76,"y":0.75},{"x":2.76,"y":0.63},{"x":2.76,"y":0.52},{"x":2.76,"y":0.42},{"x":2.76,"y":0.32},{"x":2.76,"y":0.22},{"x":2.76,"y":0.12},{"x":2.76,"y":0.02},{"x":2.76,"y":-0.08},{"x":2.76,"y":-0.18},{"x":2.76,"y":-0.28},{"x":2.76,"y":-0.38},{"x":2.76,"y":-0.48},{"x":2.76,"y":-0.6},{"x":2.76,"y":-0.75},{"x":2.76,"y":-0.93},
{"x":2.88,"y":0.76},{"x":2.88,"y":0.57},{"x":2.88,"y":0.44},{"x":2.88,"y":0.31},{"x":2.88,"y":0.2},{"x":2.88,"y":0.07},{"x":2.88,"y":-0.01},{"x":2.88,"y":-0.09},{"x":2.88,"y":-0.23},{"x":2.88,"y":-0.33},{"x":2.88,"y":-0.44},{"x":2.88,"y":-0.55},
{"x":2.99,"y":0.92},{"x":2.99,"y":0.65},{"x":2.99,"y":0.52},{"x":2.99,"y":0.36},{"x":2.99,"y":0.25},{"x":2.99,"y":0.12},{"x":2.99,"y":0.04},{"x":2.99,"y":-0.09},{"x":2.99,"y":-0.23},{"x":2.99,"y":-0.36},{"x":2.99,"y":-0.44},{"x":2.99,"y":-0.68},{"x":2.99,"y":-0.79},{"x":2.99,"y":-0.95},
{"x":3.10,"y":0.79},{"x":3.10,"y":0.6},{"x":3.10,"y":0.47},{"x":3.10,"y":0.36},{"x":3.10,"y":0.23},{"x":3.10,"y":0.12},{"x":3.10,"y":0.01},{"x":3.10,"y":-0.09},{"x":3.10,"y":-0.25},{"x":3.10,"y":-0.41},{"x":3.10,"y":-0.55},{"x":3.10,"y":-0.63},{"x":3.10,"y":-1.08},
{"x":3.26,"y":0.75},{"x":3.26,"y":0.63},{"x":3.26,"y":0.41},{"x":3.26,"y":0.22},{"x":3.26,"y":0.04},{"x":3.26,"y":-0.17},{"x":3.26,"y":-0.41},{"x":3.26,"y":-0.6},{"x":3.26,"y":-0.81},{"x":3.26,"y":-0.96},{"x":3.26,"y":-1.65},
{"x":3.32,"y":1.04},{"x":3.32,"y":0.96},{"x":3.32,"y":0.91},{"x":3.32,"y":0.68},{"x":3.32,"y":0.52},{"x":3.32,"y":0.31},{"x":3.32,"y":0.15},{"x":3.32,"y":0},{"x":3.32,"y":-0.07},{"x":3.32,"y":-0.28},{"x":3.32,"y":-0.52},{"x":3.32,"y":-0.88},{"x":3.32,"y":-1.04},{"x":3.32,"y":-1.12},
{"x":3.45,"y":1.66},{"x":3.45,"y":0.76},{"x":3.45,"y":0.36},{"x":3.45,"y":0.25},{"x":3.45,"y":0.15},{"x":3.45,"y":0.04},{"x":3.45,"y":-0.07},{"x":3.45,"y":-0.17},{"x":3.45,"y":-0.28},{"x":3.45,"y":-0.39},{"x":3.45,"y":-0.47},{"x":3.45,"y":-0.84},{"x":3.45,"y":-1.35},{"x":3.45,"y":-1.56},
{"x":3.53,"y":1.28},{"x":3.53,"y":1.08},{"x":3.53,"y":0.87},{"x":3.53,"y":0.76},{"x":3.53,"y":0.65},{"x":3.53,"y":0.55},{"x":3.53,"y":0.36},{"x":3.53,"y":0.15},{"x":3.53,"y":-0.15},{"x":3.53,"y":-0.33},{"x":3.53,"y":-0.55},{"x":3.53,"y":-1.12},{"x":3.53,"y":-1.56},{"x":3.53,"y":-1.67},
{"x":3.65,"y":0.55},{"x":3.65,"y":0.4},{"x":3.65,"y":0.28},{"x":3.65,"y":0.15},{"x":3.65,"y":0.05},{"x":3.65,"y":-0.05},{"x":3.65,"y":-0.18},{"x":3.65,"y":-0.3},{"x":3.65,"y":-0.45},{"x":3.65,"y":-0.6},{"x":3.65,"y":-0.85},{"x":3.65,"y":-1.1},
{"x":3.68,"y":1.44},{"x":3.68,"y":1.28},{"x":3.68,"y":1.16},{"x":3.68,"y":0.95},{"x":3.68,"y":0.81},{"x":3.68,"y":0.71},{"x":3.68,"y":0.6},{"x":3.68,"y":0.52},{"x":3.68,"y":0.47},{"x":3.68,"y":0.41},{"x":3.68,"y":0.36},{"x":3.68,"y":0.31},{"x":3.68,"y":0.25},{"x":3.68,"y":0.2},{"x":3.68,"y":0.15},{"x":3.68,"y":0.09},{"x":3.68,"y":0.04},{"x":3.68,"y":-0.01},{"x":3.68,"y":-0.07},{"x":3.68,"y":-0.12},{"x":3.68,"y":-0.17},{"x":3.68,"y":-0.23},{"x":3.68,"y":-0.28},{"x":3.68,"y":-0.33},{"x":3.68,"y":-0.39},{"x":3.68,"y":-0.47},{"x":3.68,"y":-0.55},{"x":3.68,"y":-0.65},{"x":3.68,"y":-0.81},{"x":3.68,"y":-0.92},{"x":3.68,"y":-1.0},{"x":3.68,"y":-1.21},{"x":3.68,"y":-1.29},{"x":3.68,"y":-1.99},
{"x":3.71,"y":0.85},{"x":3.71,"y":0.6},{"x":3.71,"y":0.45},{"x":3.71,"y":0.3},{"x":3.71,"y":0.1},{"x":3.71,"y":-0.1},{"x":3.71,"y":-0.25},{"x":3.71,"y":-0.5},{"x":3.71,"y":-0.75},{"x":3.71,"y":-0.95},{"x":3.71,"y":-1.15},
{"x":3.83,"y":0.44},{"x":3.83,"y":0.33},{"x":3.83,"y":0.23},{"x":3.83,"y":0.12},{"x":3.83,"y":0.01},{"x":3.83,"y":-0.09},{"x":3.83,"y":-0.2},{"x":3.83,"y":-0.31},{"x":3.83,"y":-0.41},{"x":3.83,"y":-0.52},{"x":3.83,"y":-0.65},
{"x":3.92,"y":0.68},{"x":3.92,"y":0.57},{"x":3.92,"y":0.17},{"x":3.92,"y":0.04},{"x":3.92,"y":-0.07},{"x":3.92,"y":-0.15},{"x":3.92,"y":-0.23},{"x":3.92,"y":-0.39},{"x":3.92,"y":-1.21},
{"x":3.99,"y":0.81},{"x":3.99,"y":0.6},{"x":3.99,"y":0.52},{"x":3.99,"y":0.41},{"x":3.99,"y":0.31},{"x":3.99,"y":0.23},{"x":3.99,"y":0.09},{"x":3.99,"y":-0.01},{"x":3.99,"y":-0.15},{"x":3.99,"y":-0.23},{"x":3.99,"y":-0.33},{"x":3.99,"y":-0.44},{"x":3.99,"y":-0.6},{"x":3.99,"y":-0.71},{"x":3.99,"y":-0.95},{"x":3.99,"y":-1.08},
{"x":4.10,"y":0.92},{"x":4.10,"y":0.65},{"x":4.10,"y":0.55},{"x":4.10,"y":0.41},{"x":4.10,"y":0.28},{"x":4.10,"y":0.15},{"x":4.10,"y":0.04},{"x":4.10,"y":-0.07},{"x":4.10,"y":-0.28},{"x":4.10,"y":-0.39},{"x":4.10,"y":-0.52},{"x":4.10,"y":-0.65},{"x":4.10,"y":-0.79},
{"x":4.21,"y":0.8},{"x":4.21,"y":0.49},{"x":4.21,"y":0.39},{"x":4.21,"y":0.28},{"x":4.21,"y":0.2},{"x":4.21,"y":0.09},{"x":4.21,"y":-0.01},{"x":4.21,"y":-0.2},{"x":4.21,"y":-0.41},{"x":4.21,"y":-0.52},{"x":4.21,"y":-0.63},{"x":4.21,"y":-1.03},
{"x":4.42,"y":1.76},{"x":4.42,"y":1.28},{"x":4.42,"y":0.8},{"x":4.42,"y":0.57},{"x":4.42,"y":0.39},{"x":4.42,"y":0.08},{"x":4.42,"y":-0.24},{"x":4.42,"y":-0.41},{"x":4.42,"y":-0.52},{"x":4.42,"y":-0.81},{"x":4.42,"y":-1.03},{"x":4.42,"y":-1.61},
{"x":4.47,"y":0.55},{"x":4.47,"y":0.44},{"x":4.47,"y":0.33},{"x":4.47,"y":0.23},{"x":4.47,"y":0.12},{"x":4.47,"y":0.01},{"x":4.47,"y":-0.09},{"x":4.47,"y":-0.2},{"x":4.47,"y":-0.25},{"x":4.47,"y":-0.47},{"x":4.47,"y":-0.68},
{"x":5.09,"y":1.3},{"x":5.09,"y":0.71},{"x":5.09,"y":0.63},{"x":5.09,"y":0.52},{"x":5.09,"y":0.21},{"x":5.09,"y":0.1},{"x":5.09,"y":0},{"x":5.09,"y":-0.09},{"x":5.09,"y":-0.19},{"x":5.09,"y":-0.3},{"x":5.09,"y":-0.58},{"x":5.09,"y":-0.79},{"x":5.09,"y":-0.89},
{"x":5.25,"y":0.77},{"x":5.25,"y":0.66},{"x":5.25,"y":0.56},{"x":5.25,"y":0.45},{"x":5.25,"y":0.35},{"x":5.25,"y":0.25},{"x":5.25,"y":0.15},{"x":5.25,"y":-0.15},{"x":5.25,"y":-0.25},{"x":5.25,"y":-0.35},{"x":5.25,"y":-0.45},{"x":5.25,"y":-1.35},
{"x":5.55,"y":0.96},{"x":5.55,"y":0.87},{"x":5.55,"y":0.66},{"x":5.55,"y":0.55},{"x":5.55,"y":0.45},{"x":5.55,"y":0.35},{"x":5.55,"y":0.25},{"x":5.55,"y":0.15},{"x":5.55,"y":0.05},{"x":5.55,"y":-0.15},{"x":5.55,"y":-0.25},{"x":5.55,"y":-0.46},{"x":5.55,"y":-0.55},{"x":5.55,"y":-1.26},{"x":5.55,"y":-2.35}
]},
"mark": {"type": "point", "shape": "M-1,0L1,0M0,-1L0,1", "filled": false, "stroke": "black", "strokeWidth": 2.2, "size": 225, "opacity": 1},
"encoding": {
"x": {"field": "x", "type": "quantitative",
 "scale": {"domain": [-0.0887, 6.0887], "nice": false, "zero": false},
 "axis": {"values": [0,1,2,3,4,5,6], "labelExpr": "'' + datum.value", "domain": false, "grid": false, "ticks": true, "tickSize": 23, "tickWidth": 2, "tickColor": "black",
  "labelFont": "Liberation Sans", "labelFontSize": 40, "labelColor": "black", "labelPadding": 30, "labelFlush": false, "labelOverlap": false,
  "title": "Erwartungswert", "titleFont": "Liberation Sans", "titleFontSize": 44, "titleFontWeight": "bold", "titleColor": "black",
  "titleX": 522.5, "titleY": 154, "titleBaseline": "middle", "titleAlign": "center"}},
"y": {"field": "y", "type": "quantitative",
 "scale": {"domain": [-6.224, 4.24], "nice": false, "zero": false},
 "axis": {"values": [-6,-4,-2,0,2,4], "labelExpr": "'' + datum.value", "domain": false, "grid": false, "ticks": true, "tickSize": 24, "tickWidth": 2, "tickColor": "black",
  "labelFont": "Liberation Sans", "labelFontSize": 40, "labelColor": "black", "labelPadding": 13, "labelFlush": false, "labelOverlap": false,
  "title": "Residuum", "titleFont": "Liberation Sans", "titleFontSize": 44, "titleFontWeight": "bold", "titleColor": "black",
  "titleX": -158, "titleY": 327.5, "titleBaseline": "middle", "titleAlign": "center", "titleAngle": -90}}
}
}
